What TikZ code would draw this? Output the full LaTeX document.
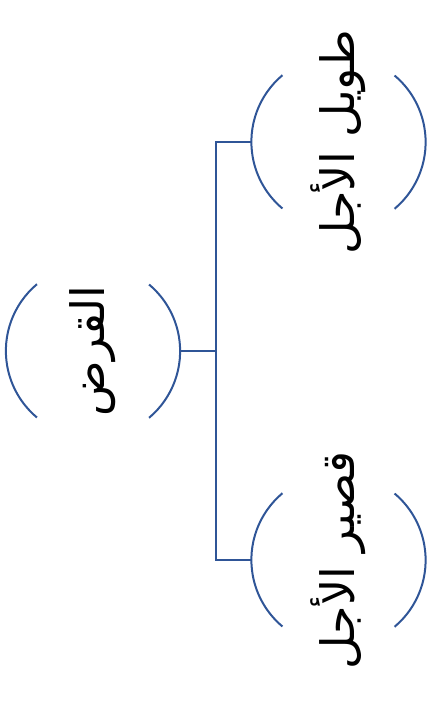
\documentclass[tikz,border=0pt]{standalone}
\usepackage{fontspec}
\usepackage{tikz}
\usetikzlibrary{positioning}
\newfontfamily\arabicfont[Script=Arabic]{DejaVu Sans}
\TeXXeTstate=1
\definecolor{linkblue}{RGB}{47,85,151}

\begin{document}
\begin{tikzpicture}[
x=1pt, y=-1pt,
bubble/.style={circle,
  inner sep=0pt,
  minimum size=174pt,
},
term/.style={rotate=90,
  inner sep=0pt,
  font=\arabicfont\fontsize{46}{48}\selectfont,
},
link/.style={draw=linkblue, line width=2pt},
]
\useasboundingbox (0,0) rectangle (430,701);

\node[bubble, label={[term]center:{\beginR القرض\endR}}] (loan) at (93,351) {};
\node[bubble, label={[term]center:{\beginR طويل الأجل\endR}}] (long) at (338.5,142) {};
\node[bubble, label={[term]center:{\beginR قصير الأجل\endR}}] (short) at (338.5,560) {};
\coordinate (split) at (216,351);

% brackets round each term
\foreach \n in {loan, long, short}{
  \draw[link] (\n.130) arc[start angle=130, end angle=230, radius=87pt];
  \draw[link] (\n.-50) arc[start angle=-50, end angle=50, radius=87pt];
}

\draw[link] (loan.east) -- (split);
\draw[link] (split) |- (long.west);
\draw[link] (split) |- (short.west);
\end{tikzpicture}
\end{document}
